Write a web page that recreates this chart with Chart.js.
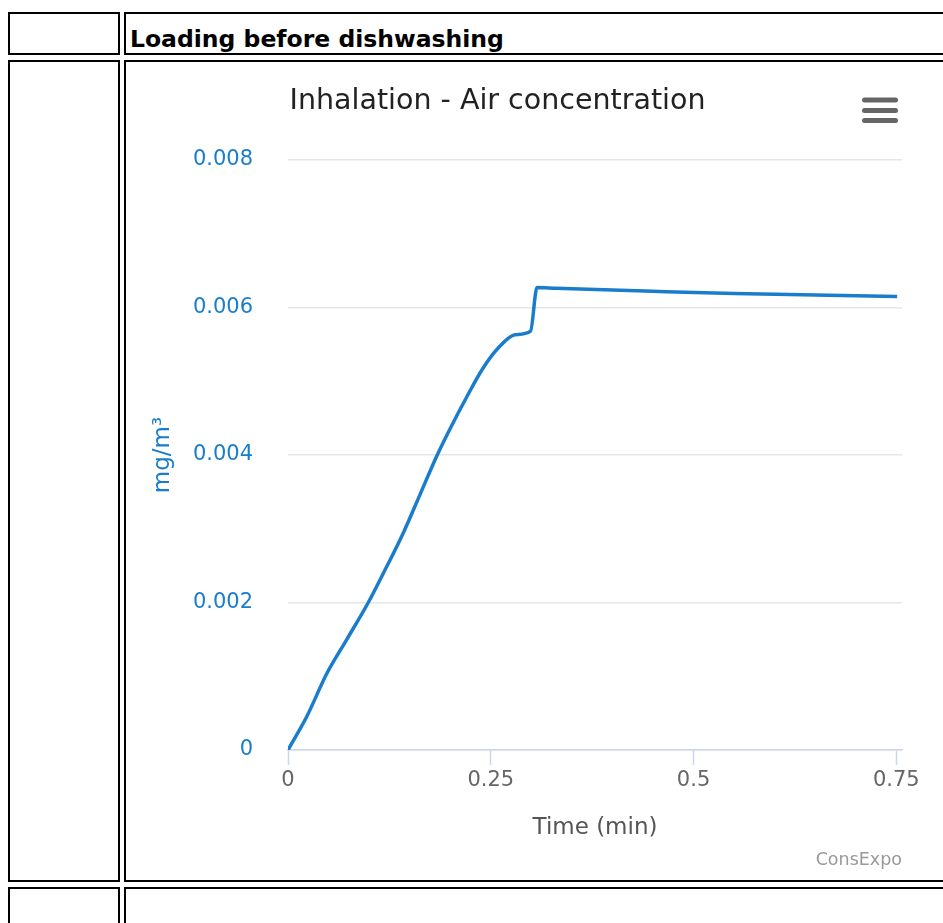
<!DOCTYPE html>
<html>
<head>
<meta charset="utf-8">
<script src="https://cdn.jsdelivr.net/npm/chart.js@4/dist/chart.umd.min.js"></script>
<style>
  html, body { margin: 0; padding: 0; overflow: hidden; background: #fff; width: 943px; height: 923px; }
  .cell { position: absolute; border: 2px solid #000; box-sizing: border-box; }
  .head { position: absolute; left: 130px; top: 25px; font: bold 23.5px "DejaVu Sans", Verdana, sans-serif; line-height: 28px; color: #000; white-space: nowrap; }
  #chart { position: absolute; left: 52px; top: 62px; z-index: 2; }
</style>
</head>
<body>
<div class="cell" style="left:8px;top:12px;width:112px;height:43px"></div>
<div class="cell" style="left:124px;top:12px;width:900px;height:43px"></div>
<div class="cell" style="left:8px;top:60px;width:112px;height:822px"></div>
<div class="cell" style="left:124px;top:60px;width:900px;height:822px"></div>
<div class="cell" style="left:8px;top:887px;width:112px;height:100px"></div>
<div class="cell" style="left:124px;top:887px;width:900px;height:100px"></div>
<div class="head">Loading before dishwashing</div>
<canvas id="chart" width="891" height="818"></canvas>
<script>
// values
const timeMin = [0, 0.023, 0.048, 0.072, 0.099, 0.12, 0.142, 0.163, 0.184, 0.2, 0.22, 0.24, 0.26, 0.28, 0.299, 0.307, 0.33, 0.45, 0.55, 0.65, 0.751];
const airConc = [0, 0.00045, 0.00104, 0.00149, 0.002, 0.00245, 0.00294, 0.00347, 0.004, 0.00436, 0.00478, 0.00517, 0.00546, 0.00563, 0.00568, 0.00627, 0.00626, 0.00622, 0.00619, 0.00617, 0.00615];
const xTicks = [0, 0.25, 0.5, 0.75];
const yTicks = [0, 0.002, 0.004, 0.006, 0.008];

const blue = '#1a7dcc';
Chart.defaults.font.family = "'DejaVu Sans', sans-serif";

// little export menu icon, top right
const menuIcon = {
  id: 'menuIcon',
  afterDraw(chart) {
    const ctx = chart.ctx;
    ctx.save();
    ctx.strokeStyle = '#666';
    ctx.lineWidth = 5;
    ctx.lineCap = 'round';
    [38, 48.5, 58.5].forEach(y => {
      ctx.beginPath();
      ctx.moveTo(812.5, y);
      ctx.lineTo(843.5, y);
      ctx.stroke();
    });
    ctx.restore();
  }
};

new Chart(document.getElementById('chart'), {
  type: 'line',
  data: {
    datasets: [{
      label: 'Air concentration',
      data: timeMin.map((t, i) => ({x: t, y: airConc[i]})),
      borderColor: blue,
      borderWidth: 3.5,
      pointRadius: 0,
      fill: false,
      cubicInterpolationMode: 'monotone'
    }]
  },
  options: {
    responsive: false,
    animation: false,
    layout: { padding: { left: 41, right: 41, top: 0, bottom: 0 } },
    plugins: {
      legend: { display: false },
      tooltip: { enabled: false },
      title: {
        display: true,
        text: 'Inhalation - Air concentration',
        color: '#222',
        font: { size: 28.5, weight: 'normal' },
        padding: { top: 22.9, bottom: 40.9 }
      },
      subtitle: {
        display: true,
        position: 'bottom',
        align: 'end',
        text: 'ConsExpo',
        color: '#999',
        font: { size: 17.5 },
        padding: { top: 0, bottom: 9.5 }
      }
    },
    scales: {
      x: {
        type: 'linear',
        min: 0,
        max: 0.757,
        afterBuildTicks: s => { s.ticks = xTicks.map(v => ({value: v})); },
        afterFit: s => { s.height = 99.5; },
        grid: { drawOnChartArea: false, tickLength: 15, tickColor: '#ccd6eb', tickWidth: 1.5 },
        border: { color: '#ccd6eb', width: 1.5 },
        ticks: { color: '#666', font: { size: 21 }, padding: 3, maxRotation: 0,
                 callback: v => String(v) },
        title: { display: true, text: 'Time (min)', color: '#555', font: { size: 23 },
                 padding: { top: 0, bottom: 7.5 } }
      },
      y: {
        min: 0,
        max: 0.008,
        afterBuildTicks: s => { s.ticks = yTicks.map(v => ({value: v})); },
        afterFit: s => { s.width = 195; },
        grid: { color: '#e6e6e6', lineWidth: 1.5, drawTicks: false },
        border: { display: false },
        ticks: { color: blue, font: { size: 21 }, padding: 35,
                 callback: v => String(+v.toFixed(4)) },
        title: { display: true, text: 'mg/m³', color: blue, font: { size: 23 },
                 padding: { top: 56, bottom: 0 } }
      }
    }
  },
  plugins: [menuIcon]
});
</script>
</body>
</html>
